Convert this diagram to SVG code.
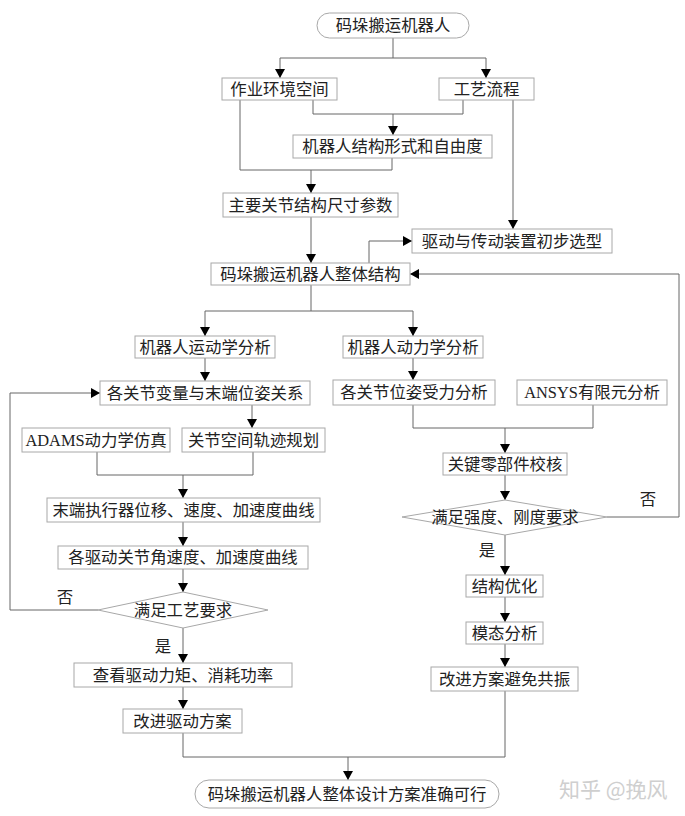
<svg xmlns="http://www.w3.org/2000/svg" width="685" height="816" viewBox="0 0 685 816">
<defs>
<marker id="arr" markerUnits="userSpaceOnUse" markerWidth="9" markerHeight="10" viewBox="0 0 9 10" refX="9" refY="5" orient="auto">
<path d="M0,0 L9,5 L0,10 z" fill="#000"/>
</marker>
</defs>
<style>
.box{fill:#fff;stroke:#a8a8a8;stroke-width:1}
.t{font-family:"Liberation Serif","Noto Sans CJK SC",serif;font-size:16.4px;fill:#222;text-anchor:middle;dominant-baseline:central}
.c{fill:none;stroke:#666;stroke-width:1}
.a{marker-end:url(#arr)}
.wm{font-family:"Noto Sans CJK SC",sans-serif;font-size:21px;fill:#cfcfcf}
</style>
<rect width="685" height="816" fill="#fff"/>
<g id="connectors">
<path class="c" d="M393,38 V58"/>
<path class="c a" d="M393,58 H280 V78"/>
<path class="c a" d="M393,58 H486 V78"/>
<path class="c a" d="M313,100 V114 H393 V135"/>
<path class="c" d="M463,100 V114 H393"/>
<path class="c a" d="M240,100 V170 H311 V193"/>
<path class="c" d="M392,158 V170 H311"/>
<path class="c a" d="M513,100 V229"/>
<path class="c a" d="M311,217 V263"/>
<path class="c a" d="M369,263 V241 H412"/>
<path class="c a" d="M607,517 H679 V274 H410"/>
<path class="c" d="M311,285 V311"/>
<path class="c a" d="M311,311 H205 V336"/>
<path class="c a" d="M311,311 H413 V336"/>
<path class="c a" d="M205,358 V381"/>
<path class="c a" d="M413,358 V380"/>
<path class="c a" d="M252,405 V428"/>
<path class="c a" d="M97,452 V475 H183 V498"/>
<path class="c" d="M253,452 V475 H183"/>
<path class="c a" d="M183,522 V546"/>
<path class="c a" d="M183,569 V592"/>
<path class="c a" d="M98,610 H10 V393 H100"/>
<path class="c a" d="M183,628 V663"/>
<path class="c a" d="M183,687 V709"/>
<path class="c a" d="M183,733 V757 H348 V780"/>
<path class="c" d="M505,691 V757 H348"/>
<path class="c a" d="M413,405 V428 H505 V453"/>
<path class="c" d="M593,405 V428 H505"/>
<path class="c a" d="M505,475 V500"/>
<path class="c a" d="M505,535 V575"/>
<path class="c a" d="M505,597 V622"/>
<path class="c a" d="M505,644 V667"/>
<text class="t" x="65" y="597">否</text>
<text class="t" x="163" y="646">是</text>
<text class="t" x="648" y="499">否</text>
<text class="t" x="487" y="550">是</text>
</g>
<g id="start"><rect class="box" x="317" y="13" width="152" height="25" rx="12.5"/><text class="t" x="393" y="25.5">码垛搬运机器人</text></g>
<g id="env"><rect class="box" x="222" y="78" width="115" height="22"/><text class="t" x="279.5" y="89">作业环境空间</text></g>
<g id="process"><rect class="box" x="439" y="78" width="95" height="22"/><text class="t" x="486.5" y="89">工艺流程</text></g>
<g id="form"><rect class="box" x="293" y="135" width="199" height="23"/><text class="t" x="392.5" y="146.5">机器人结构形式和自由度</text></g>
<g id="dims"><rect class="box" x="223" y="193" width="175" height="24"/><text class="t" x="310.5" y="205">主要关节结构尺寸参数</text></g>
<g id="drive"><rect class="box" x="412" y="229" width="200" height="24"/><text class="t" x="512" y="241">驱动与传动装置初步选型</text></g>
<g id="overall"><rect class="box" x="211" y="263" width="199" height="22"/><text class="t" x="310.5" y="274">码垛搬运机器人整体结构</text></g>
<g id="kin"><rect class="box" x="135" y="336" width="140" height="22"/><text class="t" x="205" y="347">机器人运动学分析</text></g>
<g id="dyn"><rect class="box" x="343" y="336" width="140" height="22"/><text class="t" x="413" y="347">机器人动力学分析</text></g>
<g id="jointvar"><rect class="box" x="100" y="381" width="210" height="24"/><text class="t" x="205" y="393">各关节变量与末端位姿关系</text></g>
<g id="force"><rect class="box" x="333" y="380" width="162" height="25"/><text class="t" x="414" y="392.5">各关节位姿受力分析</text></g>
<g id="ansys"><rect class="box" x="517" y="380" width="150" height="25"/><text class="t" x="592" y="392.5">ANSYS有限元分析</text></g>
<g id="adams"><rect class="box" x="22" y="428" width="148" height="24"/><text class="t" x="96" y="440">ADAMS动力学仿真</text></g>
<g id="traj"><rect class="box" x="182" y="428" width="143" height="24"/><text class="t" x="253.5" y="440">关节空间轨迹规划</text></g>
<g id="check"><rect class="box" x="443" y="453" width="124" height="22"/><text class="t" x="505" y="464">关键零部件校核</text></g>
<g id="curves"><rect class="box" x="47" y="498" width="273" height="24"/><text class="t" x="183.5" y="510">末端执行器位移、速度、加速度曲线</text></g>
<g id="strength"><polygon class="box" points="505,500 607,517 505,535 402,517"/><text class="t" x="505" y="517.5">满足强度、刚度要求</text></g>
<g id="angcurves"><rect class="box" x="58" y="546" width="250" height="23"/><text class="t" x="183" y="557.5">各驱动关节角速度、加速度曲线</text></g>
<g id="optim"><rect class="box" x="466" y="575" width="77" height="22"/><text class="t" x="504.5" y="586">结构优化</text></g>
<g id="req"><polygon class="box" points="183,592 268,610 183,628 98,610"/><text class="t" x="183" y="610">满足工艺要求</text></g>
<g id="modal"><rect class="box" x="466" y="622" width="77" height="22"/><text class="t" x="504.5" y="633">模态分析</text></g>
<g id="torque"><rect class="box" x="74" y="663" width="218" height="24"/><text class="t" x="183" y="675">查看驱动力矩、消耗功率</text></g>
<g id="resonance"><rect class="box" x="431" y="667" width="147" height="24"/><text class="t" x="504.5" y="679">改进方案避免共振</text></g>
<g id="improve"><rect class="box" x="123" y="709" width="119" height="24"/><text class="t" x="182.5" y="721">改进驱动方案</text></g>
<g id="end"><rect class="box" x="195" y="780" width="304" height="28" rx="14"/><text class="t" x="347" y="794">码垛搬运机器人整体设计方案准确可行</text></g>
<text class="wm" x="559" y="797">知乎 @挽风</text>
</svg>
